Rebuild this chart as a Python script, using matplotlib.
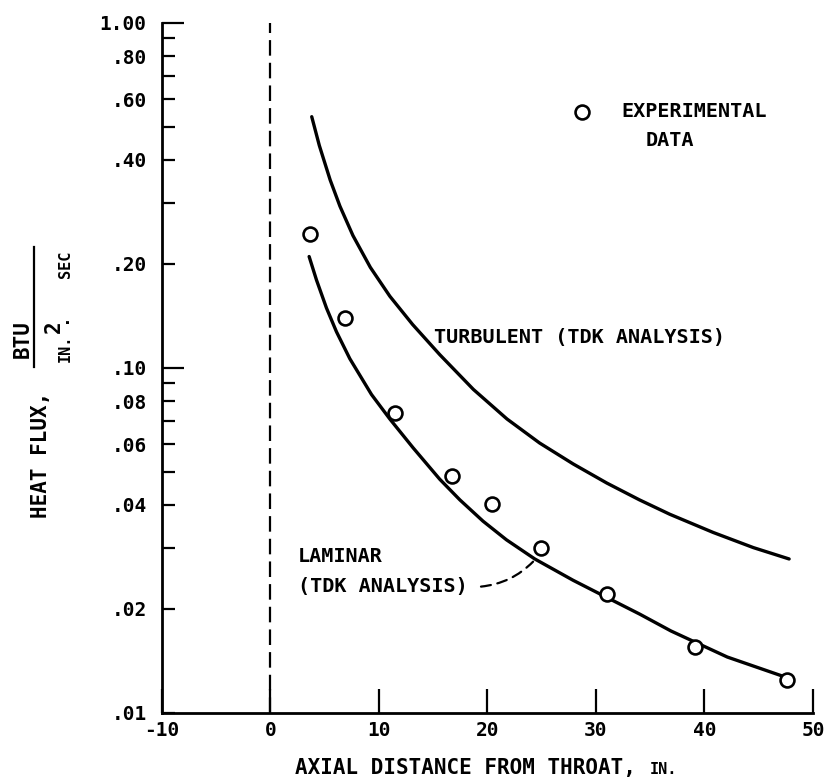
import numpy as np
import matplotlib
matplotlib.use("Agg")
import matplotlib.pyplot as plt
from matplotlib.lines import Line2D

exp_x = [3.6, 6.9, 11.5, 16.7, 20.4, 24.9, 31.0, 39.1, 47.6]
exp_y = [0.244, 0.139, 0.0741, 0.0485, 0.0402, 0.0301, 0.0221, 0.0155, 0.0124]

# turbulent (TDK analysis)
turb_x = [3.8, 4.5, 5.5, 6.4, 7.6, 9.2, 11.0, 13.1, 15.6, 18.7, 21.8, 24.8,
          27.9, 31.0, 34.0, 36.8, 40.8, 44.5, 47.8]
turb_y = [0.534, 0.4406, 0.350, 0.2938, 0.2415, 0.1954, 0.1611, 0.1334,
          0.1091, 0.0865, 0.0710, 0.0605, 0.0526, 0.0463, 0.0414, 0.0376,
          0.0333, 0.0301, 0.0279]

# laminar (TDK analysis)
lam_x = [3.56, 4.24, 5.16, 6.08, 7.31, 9.31, 11.0, 13.14, 15.6, 17.45, 19.59,
         21.75, 24.36, 27.89, 30.97, 34.04, 36.9, 42.1, 47.4]
lam_y = [0.210, 0.1795, 0.1489, 0.1271, 0.1062, 0.0836, 0.0710, 0.0586,
         0.0475, 0.0414, 0.0359, 0.0317, 0.0279, 0.0242, 0.0216, 0.0193,
         0.01726, 0.0145, 0.0127]

x_ticks = [-10, 0, 10, 20, 30, 40, 50]
x_tick_labels = ["-10", "0", "10", "20", "30", "40", "50"]
y_major = [0.1, 1.0]
y_major_labels = [".10", "1.00"]
y_minor = [0.01, 0.02, 0.03, 0.04, 0.05, 0.06, 0.07, 0.08, 0.09,
           0.2, 0.3, 0.4, 0.5, 0.6, 0.7, 0.8, 0.9]
y_minor_labels = [".01", ".02", "", ".04", "", ".06", "", ".08", "",
                  ".20", "", ".40", "", ".60", "", ".80", ""]

FONT = "DejaVu Sans Mono"
plt.rcParams["font.family"] = FONT
plt.rcParams["font.weight"] = "bold"

W, H = 828, 780
fig = plt.figure(figsize=(W / 100, H / 100), dpi=100)
ax = fig.add_axes([162 / W, 67.3 / H, (813 - 162) / W, (712.7 - 22.7) / H])

ax.set_yscale("log")
ax.set_xlim(-10, 50)
ax.set_ylim(0.01, 1.0)

# throat line
ax.axvline(0, color="black", lw=1.6, dashes=(7, 3.2))

ax.plot(turb_x, turb_y, color="black", lw=2.4, solid_capstyle="round",
        solid_joinstyle="round")
ax.plot(lam_x, lam_y, color="black", lw=2.4, solid_capstyle="round",
        solid_joinstyle="round")
ax.plot(exp_x, exp_y, ls="none", marker="o", ms=10, mfc="white",
        mec="black", mew=1.9, zorder=5)

# spines / ticks
for s in ["top", "right"]:
    ax.spines[s].set_visible(False)
for s in ["left", "bottom"]:
    ax.spines[s].set_linewidth(2.0)

ax.set_xticks(x_ticks, x_tick_labels)
ax.set_yticks(y_major, y_major_labels)
ax.set_yticks(y_minor, y_minor_labels, minor=True)
ax.xaxis.set_minor_locator(matplotlib.ticker.NullLocator())
ax.tick_params(axis="x", direction="in", length=17, width=1.6, pad=6,
               labelsize=14)
ax.tick_params(axis="y", which="major", direction="in", length=16, width=1.6,
               pad=11, labelsize=14)
ax.tick_params(axis="y", which="minor", direction="in", length=9.5, width=1.6,
               pad=11, labelsize=14)

# annotations
ax.text(15.1, 0.122, "TURBULENT (TDK ANALYSIS)", fontsize=14.5,
        va="center", ha="left")
ax.text(2.5, 0.0283, "LAMINAR", fontsize=14.5, va="center", ha="left")
ax.text(2.5, 0.0232, "(TDK ANALYSIS)", fontsize=14.5, va="center", ha="left")
ax.annotate("", xy=(24.2, 0.0274), xytext=(19.4, 0.0232),
            arrowprops=dict(arrowstyle="-", lw=1.6, linestyle=(0, (4.5, 3)),
                            connectionstyle="arc3,rad=0.18",
                            shrinkA=0, shrinkB=0))

# legend key
ax.plot([28.75], [0.552], ls="none", marker="o", ms=10, mfc="white",
        mec="black", mew=1.9)
ax.text(32.3, 0.552, "EXPERIMENTAL", fontsize=14.5, va="center", ha="left")
ax.text(34.6, 0.455, "DATA", fontsize=14.5, va="center", ha="left")

# x label
fig.text(295 / W, 1 - 768 / H, "AXIAL DISTANCE FROM THROAT,", fontsize=15,
         ha="left", va="center")
fig.text(650 / W, 1 - 769 / H, "IN.", fontsize=11, ha="left", va="center")

# y label: HEAT FLUX, BTU / (IN.^2 . SEC)
fig.text(41 / W, 1 - 455 / H, "HEAT FLUX,", fontsize=15, rotation=90,
         ha="center", va="center")
fig.add_artist(Line2D([34 / W, 34 / W], [1 - 247 / H, 1 - 367 / H],
                      color="black", lw=1.6, transform=fig.transFigure))
fig.text(23 / W, 1 - 339 / H, "BTU", fontsize=15, rotation=90,
         ha="center", va="center")
fig.text(65 / W, 1 - 348 / H, "IN.", fontsize=11, rotation=90,
         ha="center", va="center")
fig.text(54 / W, 1 - 327 / H, "2", fontsize=15, rotation=90,
         ha="center", va="center")
fig.text(66 / W, 1 - 318 / H, "·", fontsize=13, rotation=90,
         ha="center", va="center")
fig.text(66 / W, 1 - 264 / H, "SEC", fontsize=11, rotation=90,
         ha="center", va="center")

fig.savefig("out.png", dpi=100)
